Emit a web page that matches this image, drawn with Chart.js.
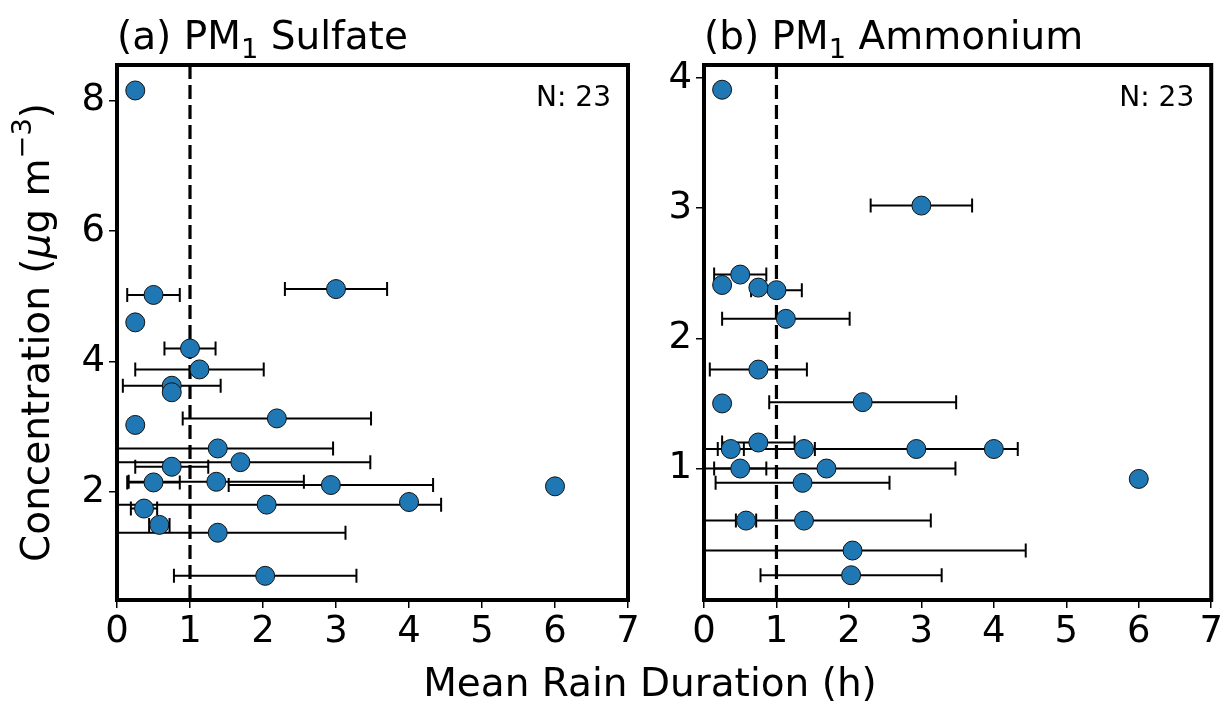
<!DOCTYPE html>
<html>
<head>
<meta charset="utf-8">
<script src="https://cdn.jsdelivr.net/npm/chart.js@4.4.1/dist/chart.umd.min.js"></script>
<style>
  html, body { margin: 0; padding: 0; background: #fff; }
  #wrap { position: relative; width: 1225px; height: 703px; }
  #wrap canvas { position: absolute; left: 0; top: 0; }
</style>
</head>
<body>
<div id="wrap">
  <canvas id="sulfate" width="1225" height="703"></canvas>
  <canvas id="ammonium" width="1225" height="703"></canvas>
</div>
<script>
// one entry per rain event, same order in every array
var rainHours   = [0.25, 0.50, 3.00, 0.25, 1.00, 1.13, 0.75, 0.75, 2.19, 0.25, 1.38, 1.69, 0.75, 0.50, 1.36, 2.93, 6.00, 4.00, 2.05, 0.37, 0.58, 1.38, 2.03];
var rainHoursSd = [0, 0.36, 0.70, 0, 0.35, 0.88, 0.67, 0, 1.29, 0, 1.58, 1.78, 0.50, 0.36, 1.20, 1.40, 0, 0, 2.39, 0.18, 0.14, 1.75, 1.25];
var sulfate     = [8.15, 5.02, 5.11, 4.60, 4.20, 3.88, 3.63, 3.53, 3.13, 3.03, 2.67, 2.46, 2.39, 2.15, 2.16, 2.11, 2.09, 1.85, 1.81, 1.75, 1.50, 1.38, 0.72];
var ammonium    = [3.91, 2.49, 3.02, 2.41, 2.37, 2.15, 1.76, 2.39, 1.51, 1.50, 1.15, 1.00, 1.20, 1.00, 0.89, 1.15, 0.92, 1.15, 0.37, 1.15, 0.60, 0.60, 0.18];

var xTicks = [0, 1, 2, 3, 4, 5, 6, 7];
var sulfateTicks = [2, 4, 6, 8];
var ammoniumTicks = [1, 2, 3, 4];
var rainThreshold = 1;

var FONT = '"DejaVu Sans"';

function drawRich(ctx, parts, x, y, size) {
  parts.forEach(function (p) {
    var s = size * (p.scale || 1);
    ctx.font = (p.italic ? 'italic ' : '') + s + 'px ' + FONT;
    ctx.fillText(p.text, x, y + (p.dy || 0) * size);
    x += ctx.measureText(p.text).width;
  });
}

function richWidth(ctx, parts, size) {
  var w = 0;
  parts.forEach(function (p) {
    ctx.font = (p.italic ? 'italic ' : '') + size * (p.scale || 1) + 'px ' + FONT;
    w += ctx.measureText(p.text).width;
  });
  return w;
}

var panelDecor = {
  id: 'panelDecor',
  beforeDatasetsDraw: function (chart) {
    var ctx = chart.ctx, a = chart.chartArea, xs = chart.scales.x, ys = chart.scales.y;
    ctx.save();
    ctx.beginPath();
    ctx.rect(a.left, a.top, a.right - a.left, a.bottom - a.top);
    ctx.clip();
    ctx.strokeStyle = '#000';
    ctx.lineWidth = 2;
    chart.data.datasets[0].data.forEach(function (p) {
      if (!p.sd) return;
      var py = ys.getPixelForValue(p.y);
      var x0 = xs.getPixelForValue(p.x - p.sd);
      var x1 = xs.getPixelForValue(p.x + p.sd);
      ctx.beginPath();
      ctx.moveTo(x0, py); ctx.lineTo(x1, py);
      ctx.moveTo(x0, py - 7); ctx.lineTo(x0, py + 7);
      ctx.moveTo(x1, py - 7); ctx.lineTo(x1, py + 7);
      ctx.stroke();
    });
    var rx = xs.getPixelForValue(rainThreshold);
    ctx.setLineDash([14, 6]);
    ctx.lineWidth = 3.2;
    ctx.beginPath();
    ctx.moveTo(rx, a.top); ctx.lineTo(rx, a.bottom);
    ctx.stroke();
    ctx.restore();
  },
  afterDraw: function (chart, args, opts) {
    var ctx = chart.ctx, a = chart.chartArea;
    ctx.save();
    ctx.strokeStyle = '#000';
    ctx.lineWidth = 4;
    ctx.strokeRect(a.left, a.top, a.right - a.left, a.bottom - a.top);

    ctx.fillStyle = '#000';
    ctx.textBaseline = 'alphabetic';
    ctx.textAlign = 'left';
    drawRich(ctx, opts.title, a.left, a.top - 16, 39);

    ctx.textAlign = 'right';
    ctx.font = '28px ' + FONT;
    ctx.fillText('N: ' + chart.data.datasets[0].data.length, a.right - 17, a.top + 41);

    ctx.textAlign = 'left';
    if (opts.yLabel) {
      var w = richWidth(ctx, opts.yLabel, 39);
      ctx.translate(49, (a.top + a.bottom) / 2);
      ctx.rotate(-Math.PI / 2);
      drawRich(ctx, opts.yLabel, -w / 2, 0, 39);
      ctx.setTransform(1, 0, 0, 1, 0, 0);
    }
    if (opts.xLabel) {
      ctx.font = '39px ' + FONT;
      ctx.textAlign = 'center';
      ctx.fillText(opts.xLabel, 650, 696);
    }
    ctx.restore();
  }
};

function makePanel(id, values, yMin, yMax, yTicks, padLeft, padRight, yWidth, decor) {
  var tickFont = { family: FONT, size: 37 };
  return new Chart(document.getElementById(id), {
    type: 'scatter',
    data: {
      datasets: [{
        data: rainHours.map(function (x, i) {
          return { x: x, y: values[i], sd: rainHoursSd[i] };
        }),
        pointRadius: 9.5,
        pointHoverRadius: 9.5,
        pointBackgroundColor: '#1f77b4',
        pointBorderColor: '#111',
        pointBorderWidth: 1
      }]
    },
    options: {
      responsive: false,
      animation: false,
      devicePixelRatio: 1,
      layout: { padding: { left: padLeft, right: padRight, top: 65, bottom: 0 } },
      plugins: {
        legend: { display: false },
        tooltip: { enabled: false },
        panelDecor: decor
      },
      scales: {
        x: {
          type: 'linear', min: 0, max: 7,
          afterBuildTicks: function (s) { s.ticks = xTicks.map(function (v) { return { value: v }; }); },
          afterFit: function (s) { s.height = 103; },
          ticks: { color: '#000', font: tickFont, padding: 2, maxRotation: 0 },
          grid: { drawOnChartArea: false, drawTicks: true, tickLength: 8, lineWidth: 1.5, color: '#000' },
          border: { display: false }
        },
        y: {
          type: 'linear', min: yMin, max: yMax,
          afterBuildTicks: function (s) { s.ticks = yTicks.map(function (v) { return { value: v }; }); },
          afterFit: function (s) { s.width = yWidth; },
          ticks: { color: '#000', font: tickFont, padding: 4 },
          grid: { drawOnChartArea: false, drawTicks: true, tickLength: 8, lineWidth: 1.5, color: '#000' },
          border: { display: false }
        }
      }
    },
    plugins: [panelDecor]
  });
}

makePanel('sulfate', sulfate, 0.35, 8.54, sulfateTicks, 0, 597, 117, {
  title: [{ text: '(a) PM' }, { text: '1', scale: 0.7, dy: 0.22 }, { text: ' Sulfate' }],
  yLabel: [{ text: 'Concentration (' }, { text: 'μ', italic: true }, { text: 'g m' }, { text: '−3', scale: 0.7, dy: -0.45 }, { text: ')' }],
  xLabel: 'Mean Rain Duration (h)'
});

makePanel('ammonium', ammonium, -0.01, 4.10, ammoniumTicks, 660, 12, 44, {
  title: [{ text: '(b) PM' }, { text: '1', scale: 0.7, dy: 0.22 }, { text: ' Ammonium' }]
});
</script>
</body>
</html>
